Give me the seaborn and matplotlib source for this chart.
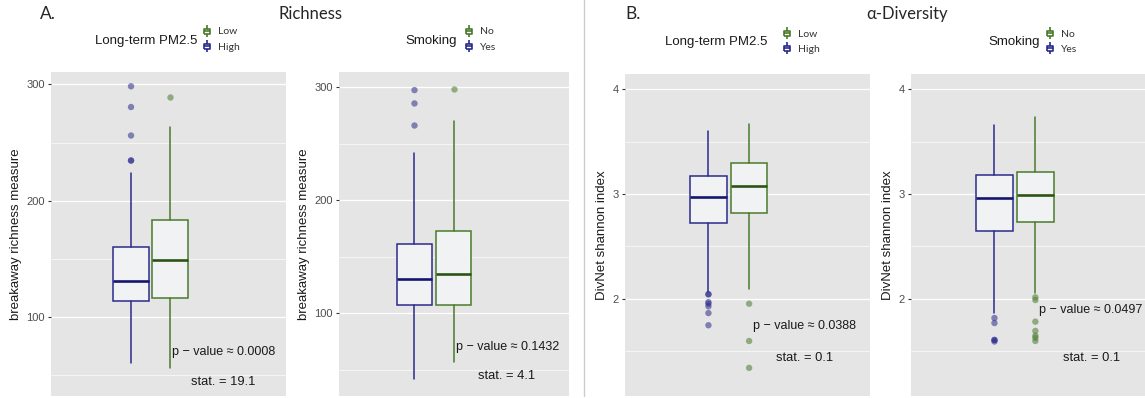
import numpy as np
import pandas as pd
import matplotlib
matplotlib.use("Agg")
import matplotlib.pyplot as plt
from matplotlib.lines import Line2D
from matplotlib.path import Path
from matplotlib.ticker import MultipleLocator
import seaborn as sns

sns.set_theme(style="darkgrid")
plt.rcParams['font.family'] = ['Liberation Sans', 'DejaVu Sans']

# five-number summaries: whisker low, q1, median, q3, whisker high
rich_pm_high = [60.3, 113.7, 130.6, 159.8, 223.9]
rich_pm_low = [56.0, 116.3, 149.0, 183.0, 263.4]
rich_pm_high_out = [298.3, 280.5, 256.0, 234.5, 234.5]
rich_pm_low_out = [289.0]

rich_smk_yes = [42.0, 107.0, 130.3, 161.2, 241.9]
rich_smk_no = [57.3, 107.6, 134.7, 173.0, 269.9]
rich_smk_yes_out = [297.3, 285.5, 266.0]
rich_smk_no_out = [298.2]

div_pm_high = [2.07, 2.727, 2.971, 3.171, 3.596]
div_pm_low = [2.095, 2.815, 3.08, 3.30, 3.667]
div_pm_high_out = [2.045, 2.045, 1.97, 1.955, 1.93, 1.866, 1.75]
div_pm_low_out = [1.955, 1.60, 1.344]

div_smk_yes = [1.866, 2.644, 2.958, 3.177, 3.653]
div_smk_no = [2.054, 2.733, 2.987, 3.21, 3.73]
div_smk_yes_out = [1.819, 1.771, 1.61, 1.61, 1.595]
div_smk_no_out = [2.016, 1.99, 1.784, 1.696, 1.65, 1.63, 1.60]

pm_labels = ["High", "Low"]
smk_labels = ["Yes", "No"]
p_values = ["0.0008", "0.1432", "0.0388", "0.0497"]
stat_values = ["19.1", "4.1", "0.1", "0.1"]

BLUE = "#2b2b8c"
BLUE_MED = "#151570"
GREEN = "#4a7a2c"
GREEN_MED = "#2c5416"
FILL = "#f1f2f4"
BG = "#e5e5e5"

W, H = 1145, 398
fig = plt.figure(figsize=(W / 100, H / 100), dpi=100)


def px_axes(x0, y0, x1, y1):
    return fig.add_axes([x0 / W, 1 - y1 / H, (x1 - x0) / W, (y1 - y0) / H])


def draw_panel(ax, blue_stats, green_stats, blue_out, green_out, labels,
               ylim, major, xlim, ylabel, ptxt, stxt, ppos, spos):
    ax.set_facecolor(BG)
    out = pd.DataFrame({
        "group": [labels[0]] * len(blue_out) + [labels[1]] * len(green_out),
        "value": blue_out + green_out,
    })
    sns.stripplot(data=out, x="group", y="value", order=labels, hue="group",
                  palette={labels[0]: BLUE, labels[1]: GREEN}, jitter=False,
                  size=4.6, alpha=0.55, linewidth=0, legend=False, ax=ax,
                  zorder=4)
    stats = []
    for s in (blue_stats, green_stats):
        stats.append(dict(whislo=s[0], q1=s[1], med=s[2], q3=s[3],
                          whishi=s[4], fliers=[]))
    bp = ax.bxp(stats, positions=[0, 1], widths=0.9, showfliers=False,
                showcaps=False, patch_artist=True, manage_ticks=False)
    for i, (c, mc) in enumerate([(BLUE, BLUE_MED), (GREEN, GREEN_MED)]):
        bp['boxes'][i].set(facecolor=FILL, edgecolor=c, linewidth=1.1, zorder=3)
        bp['medians'][i].set(color=mc, linewidth=1.9, zorder=3.5)
        for wk in bp['whiskers'][2 * i:2 * i + 2]:
            wk.set(color=c, linewidth=1.1, zorder=3)
    ax.set_xlim(*xlim)
    ax.set_ylim(*ylim)
    ax.yaxis.set_major_locator(MultipleLocator(major))
    ax.yaxis.set_minor_locator(MultipleLocator(major / 2))
    ax.grid(False)
    ax.grid(axis="y", which="major", color="white", linewidth=0.9)
    ax.grid(axis="y", which="minor", color="white", linewidth=0.45)
    ax.set_axisbelow(True)
    ax.set_xticks([])
    ax.set_xlabel("")
    ax.set_ylabel(ylabel, fontsize=9.5, color="#1a1a1a", labelpad=3)
    ax.tick_params(axis="y", which="major", length=2.5, width=0.8,
                   color="#333333", labelsize=8, labelcolor="#4d4d4d", pad=2,
                   left=True)
    ax.tick_params(axis="y", which="minor", length=0)
    for sp in ax.spines.values():
        sp.set_visible(False)
    ax.text(ppos[0], ppos[1], "p \u2212 value \u2248 " + ptxt, transform=ax.transAxes,
            fontsize=9, color="#1a1a1a", ha="left", va="center")
    ax.text(spos[0], spos[1], "stat. = " + stxt, transform=ax.transAxes,
            fontsize=9.3, color="#1a1a1a", ha="left", va="center")


ax1 = px_axes(51, 72, 286, 396)
draw_panel(ax1, rich_pm_high, rich_pm_low, rich_pm_high_out, rich_pm_low_out,
           pm_labels, (32.1, 310.6), 100, (-2.05, 3.97),
           "breakaway richness measure", p_values[0], stat_values[0],
           (0.515, 0.136), (0.596, 0.043))

ax2 = px_axes(339, 72, 569, 396)
draw_panel(ax2, rich_smk_yes, rich_smk_no, rich_smk_yes_out, rich_smk_no_out,
           smk_labels, (26.9, 313.3), 100, (-1.92, 3.93),
           "breakaway richness measure", p_values[1], stat_values[1],
           (0.507, 0.152), (0.604, 0.062))

ax3 = px_axes(625, 74, 870, 396)
draw_panel(ax3, div_pm_high, div_pm_low, div_pm_high_out, div_pm_low_out,
           pm_labels, (1.076, 4.143), 1, (-2.05, 3.97),
           "DivNet shannon index", p_values[2], stat_values[2],
           (0.521, 0.218), (0.616, 0.119))

ax4 = px_axes(911, 74, 1145, 396)
draw_panel(ax4, div_smk_yes, div_smk_no, div_smk_yes_out, div_smk_no_out,
           smk_labels, (1.076, 4.143), 1, (-2.04, 3.68),
           "DivNet shannon index", p_values[3], stat_values[3],
           (0.548, 0.267), (0.648, 0.119))

# separator between the two halves
fig.add_artist(Line2D([584 / W, 584 / W], [1 - 396 / H, 1], color="#cccccc",
                      linewidth=1.0))


def fx(px):
    return px / W


def fy(py):
    return 1 - py / H


# panel letters and titles
fig.text(fx(40), fy(14), "A.", family="Lato", fontsize=12.5, ha="left", va="center")
fig.text(fx(310), fy(14), "Richness", family="Lato", fontsize=12, ha="center", va="center")
fig.text(fx(625), fy(14), "B.", family="Lato", fontsize=12.5, ha="left", va="center")
fig.text(fx(907), fy(14), "\u03b1-Diversity", family=["Lato", "DejaVu Sans"],
         fontsize=12, ha="center", va="center")

# legend key: tiny boxplot glyph
glyph = Path(
    [(-0.6, -0.45), (0.6, -0.45), (0.6, 0.45), (-0.6, 0.45), (-0.6, -0.45),
     (-0.6, 0.0), (0.6, 0.0),
     (0.0, 0.45), (0.0, 1.0),
     (0.0, -0.45), (0.0, -1.0)],
    [Path.MOVETO, Path.LINETO, Path.LINETO, Path.LINETO, Path.LINETO,
     Path.MOVETO, Path.LINETO,
     Path.MOVETO, Path.LINETO,
     Path.MOVETO, Path.LINETO])


def key(color):
    return Line2D([], [], marker=glyph, markersize=8, markerfacecolor="none",
                  markeredgecolor=color, markeredgewidth=1.2, linestyle="none")


legends = [
    ("Long-term PM2.5", ["Low", "High"], 197, 41, 202, 39.5),
    ("Smoking", ["No", "Yes"], 457, 41, 463.5, 39.5),
    ("Long-term PM2.5", ["Low", "High"], 767, 42, 782, 41.7),
    ("Smoking", ["No", "Yes"], 1040, 42, 1044.5, 41.7),
]
for title, labs, tx, ty, lx, ly in legends:
    fig.text(fx(tx), fy(ty), title, fontsize=9.5, color="#1a1a1a",
             ha="right", va="center")
    leg = fig.legend([key(GREEN), key(BLUE)], labs, loc="center left",
                     bbox_to_anchor=(fx(lx), fy(ly)), frameon=False,
                     borderpad=0, borderaxespad=0, handlelength=1.0,
                     handletextpad=0.55, labelspacing=0.6,
                     prop={"family": "Lato", "size": 7.5})
    for t in leg.get_texts():
        t.set_color("#333333")

fig.savefig("out.png", dpi=100, facecolor="white")
